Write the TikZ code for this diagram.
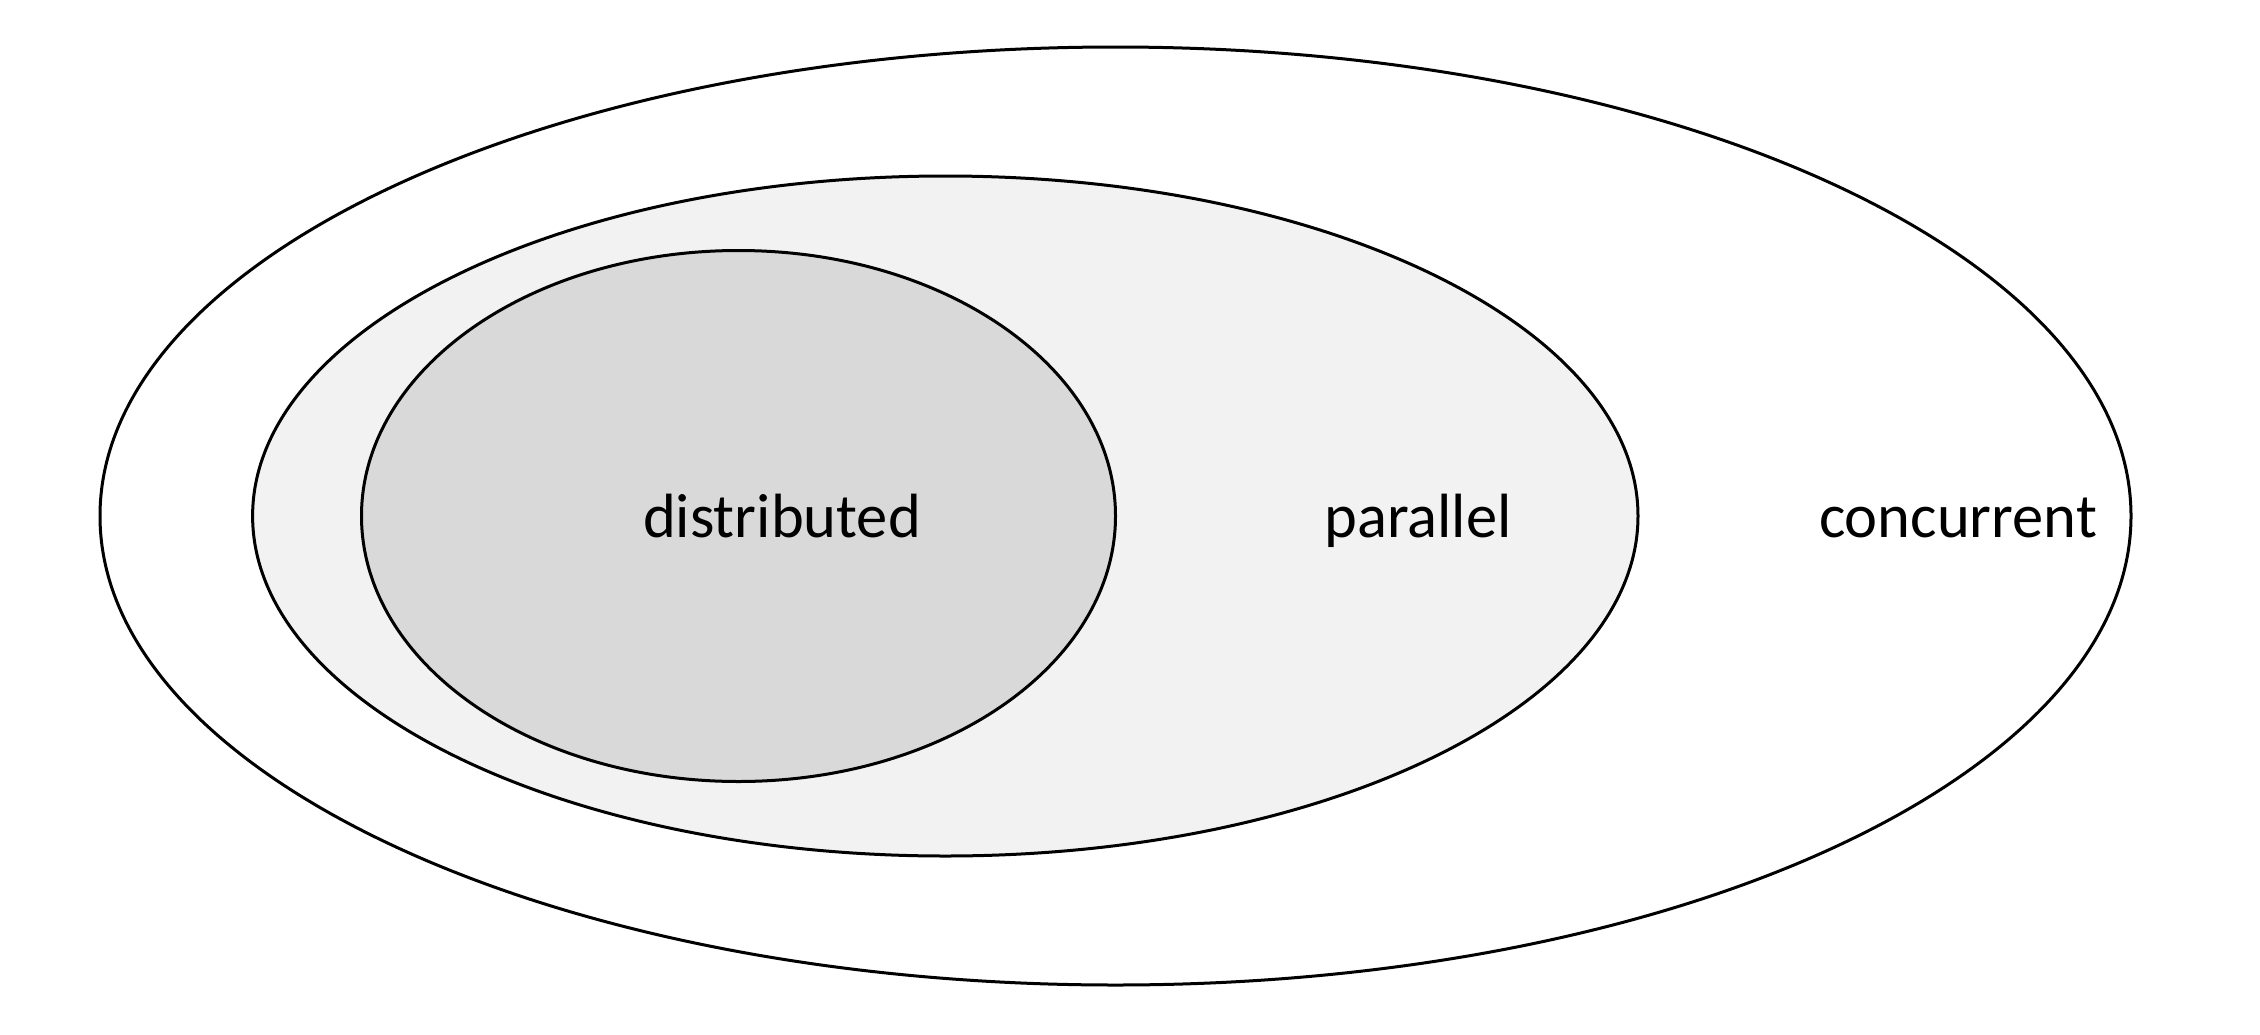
\documentclass[tikz,border=0pt]{standalone}
\usepackage{fontspec}
\setmainfont{Carlito}
\definecolor{midgray}{HTML}{F2F2F2}
\definecolor{ingray}{HTML}{D9D9D9}
\begin{document}
\begin{tikzpicture}[x=1pt,y=-1pt,
  ring/.style={draw=black,line width=3pt},
  lbl/.style={anchor=base,inner sep=0pt,font=\fontsize{62.5}{70}\selectfont}]
\useasboundingbox (0,0) rectangle (2260,1034);
\fill[white] (0,0) rectangle (2260,1034);
\draw[ring,fill=white] (1115.5,516) ellipse [x radius=1015.5pt, y radius=469pt];
\draw[ring,fill=midgray] (945.3,516) ellipse [x radius=692.7pt, y radius=340pt];
\draw[ring,fill=ingray] (738.5,516) ellipse [x radius=377pt, y radius=265.5pt];
\node[lbl] (dist) at (782,537) {distributed};
\node[lbl] (par) at (1418,537) {parallel};
\node[lbl] (conc) at (1958,537) {concurrent};
\end{tikzpicture}
\end{document}
